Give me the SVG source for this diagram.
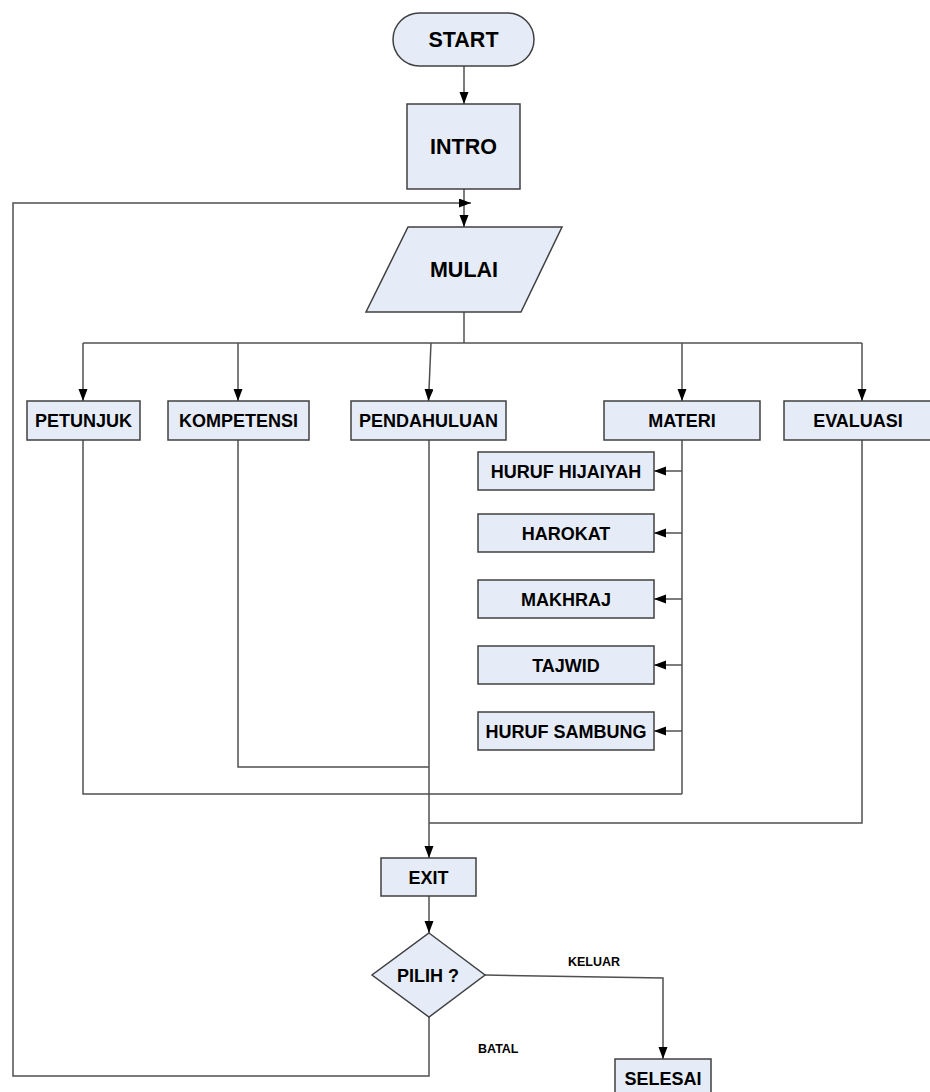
<svg xmlns="http://www.w3.org/2000/svg" width="930" height="1092" viewBox="0 0 930 1092">
<defs>
<marker id="arr" markerWidth="12" markerHeight="10" refX="12" refY="4.5" orient="auto" markerUnits="userSpaceOnUse">
<path d="M0,0 L12,4.5 L0,9 z" fill="#000"/>
</marker>
<style>
.n{fill:#E6ECF7;stroke:#404040;stroke-width:1.5}
.t{font-family:"Liberation Sans",Arial,sans-serif;font-weight:bold;font-size:18px;fill:#000;text-anchor:middle}
.big{font-size:21.5px}
.lbl{font-family:"Liberation Sans",Arial,sans-serif;font-weight:bold;font-size:12.5px;fill:#000}
.c{fill:none;stroke:#505050;stroke-width:1.5}
.a{marker-end:url(#arr)}
</style>
</defs>
<rect width="930" height="1092" fill="#fff"/>
<g id="connectors">
<line class="c a" x1="464" y1="66" x2="464" y2="104"/>
<line class="c a" x1="464" y1="189" x2="464" y2="227"/>
<line class="c" x1="464" y1="312" x2="464" y2="343"/>
<line class="c" x1="83" y1="343" x2="862" y2="343"/>
<line class="c a" x1="83" y1="343" x2="83" y2="401"/>
<line class="c a" x1="238" y1="343" x2="238" y2="401"/>
<line class="c a" x1="431" y1="343" x2="428.5" y2="401"/>
<line class="c a" x1="682" y1="343" x2="682" y2="401"/>
<line class="c a" x1="862" y1="343" x2="862" y2="401"/>
<line class="c" x1="682" y1="440" x2="682" y2="794"/>
<line class="c a" x1="682" y1="471" x2="654" y2="471"/>
<line class="c a" x1="682" y1="533" x2="654" y2="533"/>
<line class="c a" x1="682" y1="599" x2="654" y2="599"/>
<line class="c a" x1="682" y1="665" x2="654" y2="665"/>
<line class="c a" x1="682" y1="731" x2="654" y2="731"/>
<polyline class="c" points="238,440 238,767 429,767"/>
<polyline class="c" points="83,440 83,794 682,794"/>
<polyline class="c" points="862,440 862,823 429,823"/>
<line class="c a" x1="429" y1="440" x2="429" y2="858"/>
<line class="c a" x1="429" y1="896" x2="429" y2="933"/>
<polyline class="c a" points="485,975 663,978 663,1059"/>
<polyline class="c a" points="429,1017 429,1076 13,1076 13,203 471,203"/>
</g>
<g id="start"><rect class="n" x="393" y="13" width="141" height="53" rx="26.5"/><text class="t big" x="463.5" y="47">START</text></g>
<g id="intro"><rect class="n" x="407" y="104" width="113" height="85"/><text class="t big" x="463.5" y="154">INTRO</text></g>
<g id="mulai"><polygon class="n" points="408,227 562,227 521,312 366,312"/><text class="t big" x="464" y="277">MULAI</text></g>
<g id="petunjuk"><rect class="n" x="27" y="401" width="113" height="39"/><text class="t" x="83.5" y="427">PETUNJUK</text></g>
<g id="kompetensi"><rect class="n" x="168" y="401" width="141" height="39"/><text class="t" x="238.5" y="427">KOMPETENSI</text></g>
<g id="pendahuluan"><rect class="n" x="351" y="401" width="155" height="39"/><text class="t" x="428.5" y="427">PENDAHULUAN</text></g>
<g id="materi"><rect class="n" x="604" y="401" width="156" height="39"/><text class="t" x="682" y="427">MATERI</text></g>
<g id="evaluasi"><rect class="n" x="784" y="401" width="150" height="39"/><text class="t" x="858" y="427">EVALUASI</text></g>
<g id="hijaiyah"><rect class="n" x="478" y="452" width="176" height="38"/><text class="t" x="566" y="477.5">HURUF HIJAIYAH</text></g>
<g id="harokat"><rect class="n" x="478" y="514" width="176" height="38"/><text class="t" x="566" y="539.5">HAROKAT</text></g>
<g id="makhraj"><rect class="n" x="478" y="580" width="176" height="38"/><text class="t" x="566" y="605.5">MAKHRAJ</text></g>
<g id="tajwid"><rect class="n" x="478" y="646" width="176" height="38"/><text class="t" x="566" y="671.5">TAJWID</text></g>
<g id="sambung"><rect class="n" x="478" y="712" width="176" height="38"/><text class="t" x="566" y="737.5">HURUF SAMBUNG</text></g>
<g id="exit"><rect class="n" x="381" y="858" width="95" height="38"/><text class="t" x="428.5" y="883.5">EXIT</text></g>
<g id="pilih"><polygon class="n" points="429,933 485,975 429,1017 372,975"/><text class="t" x="428" y="981.5">PILIH ?</text></g>
<g id="selesai"><rect class="n" x="615" y="1059" width="96" height="39"/><text class="t" x="663" y="1084.5">SELESAI</text></g>
<g id="labels"><text class="lbl" x="568" y="966">KELUAR</text><text class="lbl" x="478" y="1053">BATAL</text></g>
</svg>
